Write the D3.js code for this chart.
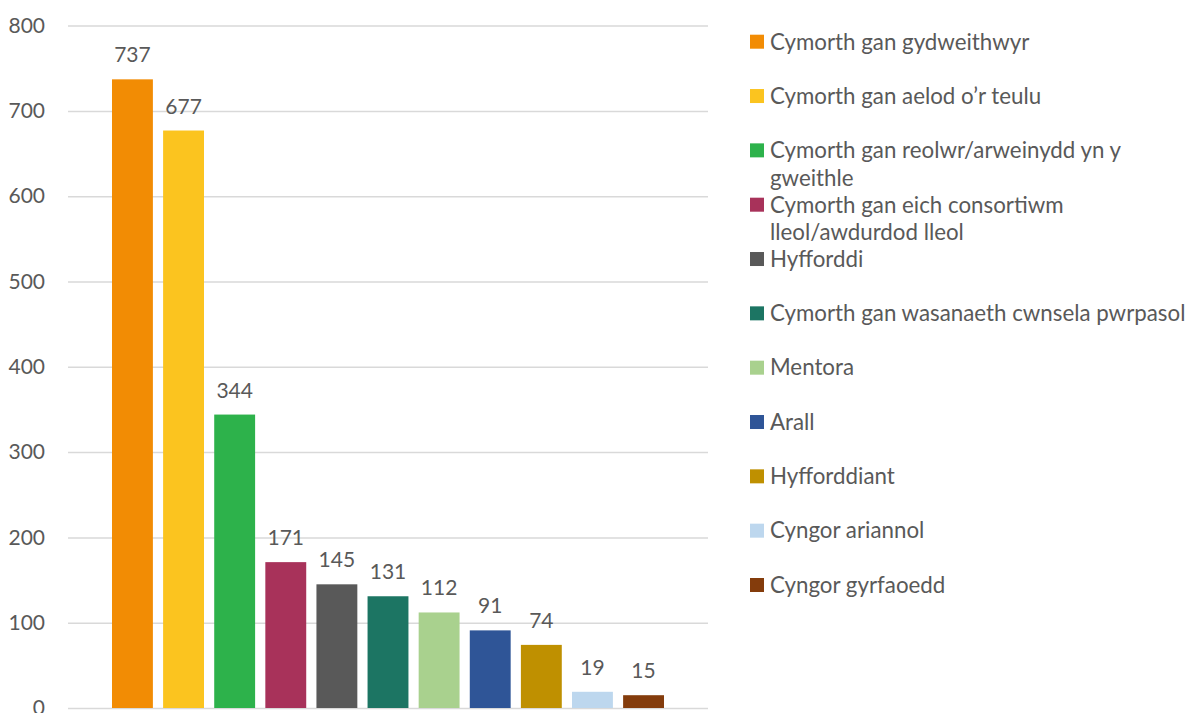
<!DOCTYPE html>
<html><head><meta charset="utf-8">
<script src="https://cdn.jsdelivr.net/npm/d3@7"></script>
<style>
html,body{margin:0;padding:0;background:#fff;}
text{font-family:Lato,"Open Sans",sans-serif;fill:#595959;}
</style></head>
<body><svg id="c" width="1195" height="713"></svg>
<script>
const categories = [
  "Cymorth gan gydweithwyr",
  "Cymorth gan aelod o’r teulu",
  "Cymorth gan reolwr/arweinydd yn y\ngweithle",
  "Cymorth gan eich consortiwm\nlleol/awdurdod lleol",
  "Hyfforddi",
  "Cymorth gan wasanaeth cwnsela pwrpasol",
  "Mentora",
  "Arall",
  "Hyfforddiant",
  "Cyngor ariannol",
  "Cyngor gyrfaoedd"
];
const values = [737, 677, 344, 171, 145, 131, 112, 91, 74, 19, 15];
const colors = ["#F28C04","#FBC41F","#2DB24B","#A8325A","#595959","#1C7563","#A9D18E","#2F5597","#BF9000","#BDD7EE","#843C0C"];
const yTicks = [0,100,200,300,400,500,600,700,800];

const svg = d3.select("#c");
const plotL = 68, plotR = 708, plotT = 25.6, plotB = 708;
const fs = 21, legFs = 22.3;
const y = d3.scaleLinear().domain([0,800]).range([plotB, plotT]);
const x0 = d3.scaleBand().domain(["all"]).range([plotL, plotR]).paddingOuter(0.0797);
const x = d3.scaleBand().domain(d3.range(values.length))
  .range([x0("all"), x0("all") + x0.bandwidth()]).paddingInner(0.2);

// gridlines
const yAxis = d3.axisLeft(y).tickValues(yTicks).tickSize(-(plotR - plotL)).tickPadding(23).tickFormat(d3.format("d"));
const ga = svg.append("g").attr("transform", `translate(${plotL},0)`).call(yAxis);
ga.select(".domain").remove();
ga.selectAll(".tick line").attr("stroke", "#d9d9d9").attr("stroke-width", 1.5);
ga.selectAll(".tick text").style("font-size", fs + "px").attr("fill", "#595959").style("font-family", "Lato, sans-serif");

// bars
svg.append("g").selectAll("rect").data(values).join("rect")
  .attr("x", (d,i) => x(i)).attr("width", x.bandwidth())
  .attr("y", d => y(d)).attr("height", d => y(0) - y(d))
  .attr("fill", (d,i) => colors[i]);

// value labels
svg.append("g").selectAll("text").data(values).join("text")
  .attr("x", (d,i) => x(i) + x.bandwidth()/2)
  .attr("y", d => y(d) - 17)
  .attr("text-anchor", "middle")
  .style("font-size", fs + "px")
  .text(d => d);

// legend
const legY = d3.scaleLinear().domain([0, categories.length - 1]).range([41.7, 585]);
const lg = svg.append("g").selectAll("g").data(categories).join("g")
  .attr("transform", (d,i) => `translate(750,${legY(i)})`);
lg.append("rect").attr("x", 0).attr("y", -7).attr("width", 14).attr("height", 14)
  .attr("fill", (d,i) => colors[i]);
lg.append("text").attr("x", 20).attr("y", 0)
  .style("font-size", legFs + "px")
  .each(function(d) {
    const lines = d.split("\n");
    d3.select(this).selectAll("tspan").data(lines).join("tspan")
      .attr("x", 20).attr("dy", (l,k) => k === 0 ? "0.35em" : "1.25em").text(l => l);
  });
</script>
</body></html>
